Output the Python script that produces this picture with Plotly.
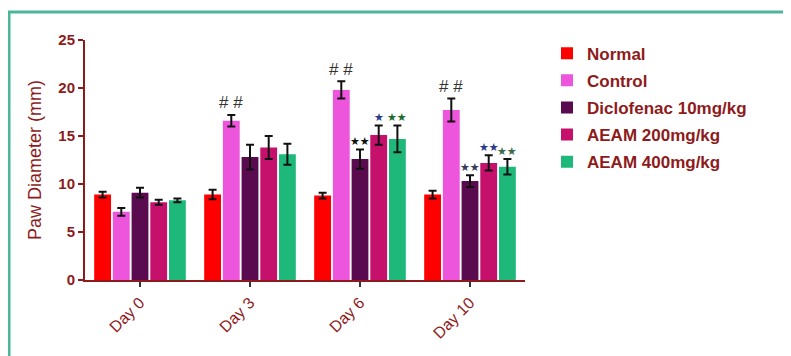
import plotly.graph_objects as go

days = ["Day 0", "Day 3", "Day 6", "Day 10"]
groups = ["Normal", "Control", "Diclofenac 10mg/kg", "AEAM 200mg/kg", "AEAM 400mg/kg"]
colors = ["#FF0000", "#EE55DD", "#5A0B50", "#C5106C", "#1EB97A"]

normal = [8.9, 8.9, 8.8, 8.9]
control = [7.1, 16.6, 19.8, 17.7]
diclofenac = [9.1, 12.8, 12.6, 10.3]
aeam200 = [8.1, 13.8, 15.1, 12.2]
aeam400 = [8.3, 13.1, 14.7, 11.8]

normal_err = [0.3, 0.5, 0.3, 0.4]
control_err = [0.4, 0.6, 0.9, 1.2]
diclofenac_err = [0.5, 1.3, 1.0, 0.6]
aeam200_err = [0.25, 1.2, 1.0, 0.8]
aeam400_err = [0.2, 1.1, 1.4, 0.8]

values = [normal, control, diclofenac, aeam200, aeam400]
errors = [normal_err, control_err, diclofenac_err, aeam200_err, aeam400_err]

# significance marks: (group index, day index, text, colour)
marks = [
    (1, 1, "# #", "#333333"),
    (1, 2, "# #", "#333333"),
    (1, 3, "# #", "#333333"),
    (2, 2, "★★", "#111111"),
    (3, 2, "★", "#2B3A8A"),
    (4, 2, "★★", "#1E6B2E"),
    (2, 3, "★★", "#3A3A5A"),
    (3, 3, "★★", "#2B3A8A"),
    (4, 3, "★★", "#3E6B4E"),
]

axis_red = "#8E1B1B"
fig = go.Figure()
for name, vals, errs, col in zip(groups, values, errors, colors):
    fig.add_trace(go.Bar(
        name=name, x=days, y=vals, marker_color=col, marker_line_width=0,
        error_y=dict(type="data", array=errs, color="#111111", thickness=2, width=4),
        legendgroup=name,
    ))

slot = (1 - 0.15) / 5
for gi, di, txt, col in marks:
    off = (gi - 2) * slot
    top = values[gi][di] + errors[gi][di]
    is_hash = "#" in txt
    fig.add_annotation(
        x=di + off, y=top, xref="x", yref="y", text=txt, showarrow=False,
        yshift=12 if is_hash else 8,
        font=dict(size=17 if is_hash else 11, color=col,
                  family="Liberation Sans" if is_hash else "DejaVu Sans"),
    )

fig.add_shape(type="rect", xref="paper", yref="paper",
              x0=-0.1727, x1=1.7, y0=-0.4, y1=1.1167,
              line=dict(color="#4DB59A", width=3), fillcolor="rgba(0,0,0,0)", layer="below")

fig.update_layout(
    width=783, height=348,
    margin=dict(l=77, r=266, t=32, b=76),
    paper_bgcolor="white", plot_bgcolor="white",
    barmode="group", bargap=0.15, bargroupgap=0.1,
    font=dict(family="Liberation Sans, Arial", color=axis_red),
    legend=dict(x=1.05, y=1.018, xanchor="left", yanchor="top",
                font=dict(size=17, color=axis_red, family="Liberation Sans", weight="bold"),
                tracegroupgap=2, itemwidth=30),
    showlegend=True,
)
fig.update_xaxes(
    range=[-0.5, 3.5],
    showline=True, linecolor=axis_red, linewidth=2, ticks="outside",
    tickcolor="#333333", ticklen=5, tickwidth=2, tickangle=-45,
    tickfont=dict(size=16, color=axis_red), showgrid=False,
)
fig.update_yaxes(
    range=[0, 25], tickvals=[0, 5, 10, 15, 20, 25], showline=True,
    linecolor=axis_red, linewidth=2, ticks="outside", tickcolor=axis_red,
    ticklen=5, tickwidth=2, tickfont=dict(size=15, color=axis_red, weight="bold"),
    showgrid=False, zeroline=False,
    title=dict(text="Paw Diameter (mm)", font=dict(size=18, color=axis_red), standoff=12),
)

fig.write_html("out.html")
